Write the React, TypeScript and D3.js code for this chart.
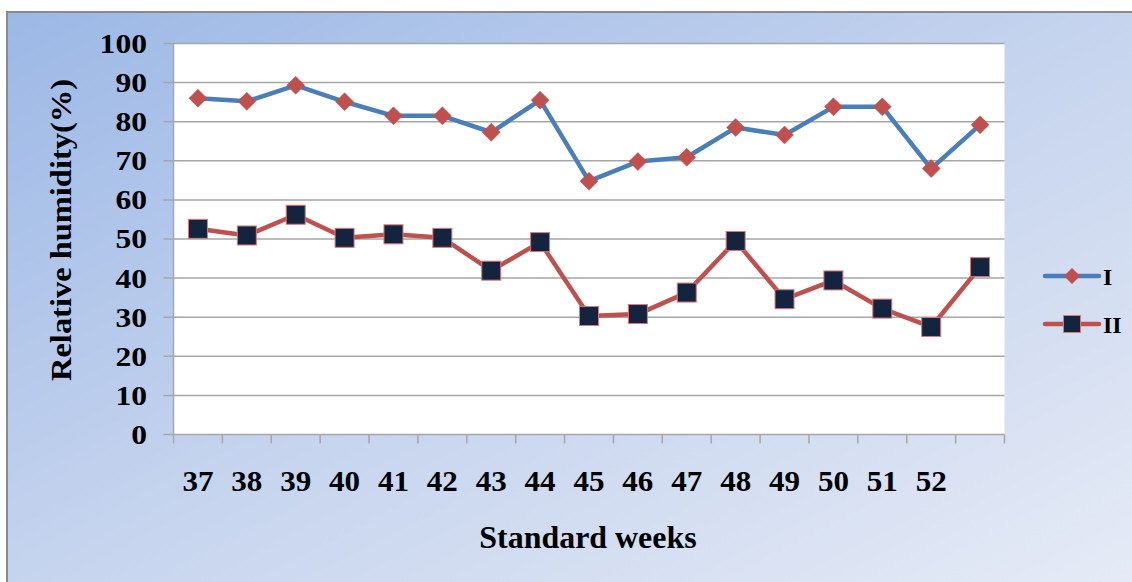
import React from "react";
import * as d3 from "d3";

const weeks = ["37","38","39","40","41","42","43","44","45","46","47","48","49","50","51","52",""];
const seriesI = [86, 85.2, 89.3, 85.1, 81.5, 81.5, 77.3, 85.5, 64.8, 69.8, 70.9, 78.5, 76.6, 83.8, 83.8, 68, 79.2];
const seriesII = [52.6, 50.9, 56.2, 50.3, 51.2, 50.3, 41.9, 49.2, 30.3, 30.8, 36.3, 49.5, 34.6, 39.4, 32.2, 27.5, 42.8];
const yTicks = [0, 10, 20, 30, 40, 50, 60, 70, 80, 90, 100];
const legendNames = ["I", "II"];

const W = 1132, H = 582;
const L = 173.5, R = 1004.5, T = 43.5, B = 434.5;

export default function App() {
  const x = d3.scaleBand<string>().domain(weeks.map((w, i) => i + "")).range([L, R]);
  const y = d3.scaleLinear().domain([0, 100]).range([B, T]);
  const cx = (i: number) => (x(i + "") as number) + x.bandwidth() / 2;
  const line = d3.line<number>().x((_, i) => cx(i)).y((d) => y(d));
  const font = "'Liberation Serif', 'Times New Roman', serif";
  const diamond = (px: number, py: number, s: number) =>
    `M${px},${py - s}L${px + s},${py}L${px},${py + s}L${px - s},${py}Z`;

  return (
    <svg width={W} height={H} style={{ position: "fixed", left: 0, top: 0 }} fontFamily={font}>
      <defs>
        <linearGradient id="bg" x1="0" y1="0" x2="1" y2="1">
          <stop offset="0" stopColor="#9cb8e6" />
          <stop offset="0.5" stopColor="#c6d4ee" />
          <stop offset="1" stopColor="#e6ebf6" />
        </linearGradient>
      </defs>
      <rect x={0} y={0} width={W} height={H} fill="#fff" />
      <rect x={7} y={12} width={W} height={H} fill="url(#bg)" stroke="#8a8a8a" strokeWidth={2} />
      <rect x={L} y={T} width={R - L} height={B - T} fill="#fff" />
      {yTicks.map((t) => (
        <g key={t}>
          <line x1={L - 10} x2={R} y1={y(t)} y2={y(t)} stroke="#a6a6a6" strokeWidth={1.5} />
          <text x={147} y={y(t)} dy="0.35em" textAnchor="end" fontSize={27} fontWeight="bold"
            transform={`translate(147,0) scale(1.17,1) translate(-147,0)`}>{t}</text>
        </g>
      ))}
      <line x1={L} x2={L} y1={T} y2={B} stroke="#a6a6a6" strokeWidth={1.5} />
      {weeks.map((w, i) => (
        <line key={"t" + i} x1={x(i + "")} x2={x(i + "")} y1={B} y2={B + 9} stroke="#a6a6a6" strokeWidth={1.5} />
      ))}
      <line x1={R} x2={R} y1={B} y2={B + 9} stroke="#a6a6a6" strokeWidth={1.5} />
      {weeks.map((w, i) => (
        <text key={"l" + i} x={cx(i)} y={491} textAnchor="middle" fontSize={29} fontWeight="bold"
          transform={`translate(${cx(i)},0) scale(1.07,1) translate(${-cx(i)},0)`}>{w}</text>
      ))}
      <text x={588} y={548} textAnchor="middle" fontSize={31} fontWeight="bold"
        transform="translate(588,0) scale(1.03,1) translate(-588,0)">Standard weeks</text>
      <text transform="translate(71,230) rotate(-90) scale(1.12,1)" textAnchor="middle" fontSize={29} fontWeight="bold">Relative humidity(%)</text>

      <path d={line(seriesI) as string} fill="none" stroke="#4a7ebb" strokeWidth={4.5} strokeLinejoin="round" />
      {seriesI.map((v, i) => (
        <path key={"d" + i} d={diamond(cx(i), y(v), 9)} fill="#c0504d" stroke="#b85450" strokeWidth={0.5} />
      ))}
      <path d={line(seriesII) as string} fill="none" stroke="#c0504d" strokeWidth={4.5} strokeLinejoin="round" />
      {seriesII.map((v, i) => (
        <rect key={"s" + i} x={cx(i) - 9.5} y={y(v) - 9.5} width={19} height={19} fill="#14243f" stroke="#d9797a" strokeWidth={1} />
      ))}

      {legendNames.map((n, k) => {
        const ly = k === 0 ? 276 : 324;
        return (
          <g key={n}>
            <line x1={1045} x2={1099} y1={ly} y2={ly} stroke={k === 0 ? "#4a7ebb" : "#c0504d"} strokeWidth={4.5} strokeLinecap="round" />
            {k === 0 ? (
              <path d={diamond(1072, ly, 8)} fill="#c0504d" />
            ) : (
              <rect x={1063.5} y={ly - 8.5} width={17} height={17} fill="#14243f" stroke="#d9797a" strokeWidth={1} />
            )}
            <text x={1103} y={ly} dy="0.36em" fontSize={24} fontWeight="bold">{n}</text>
          </g>
        );
      })}
    </svg>
  );
}
